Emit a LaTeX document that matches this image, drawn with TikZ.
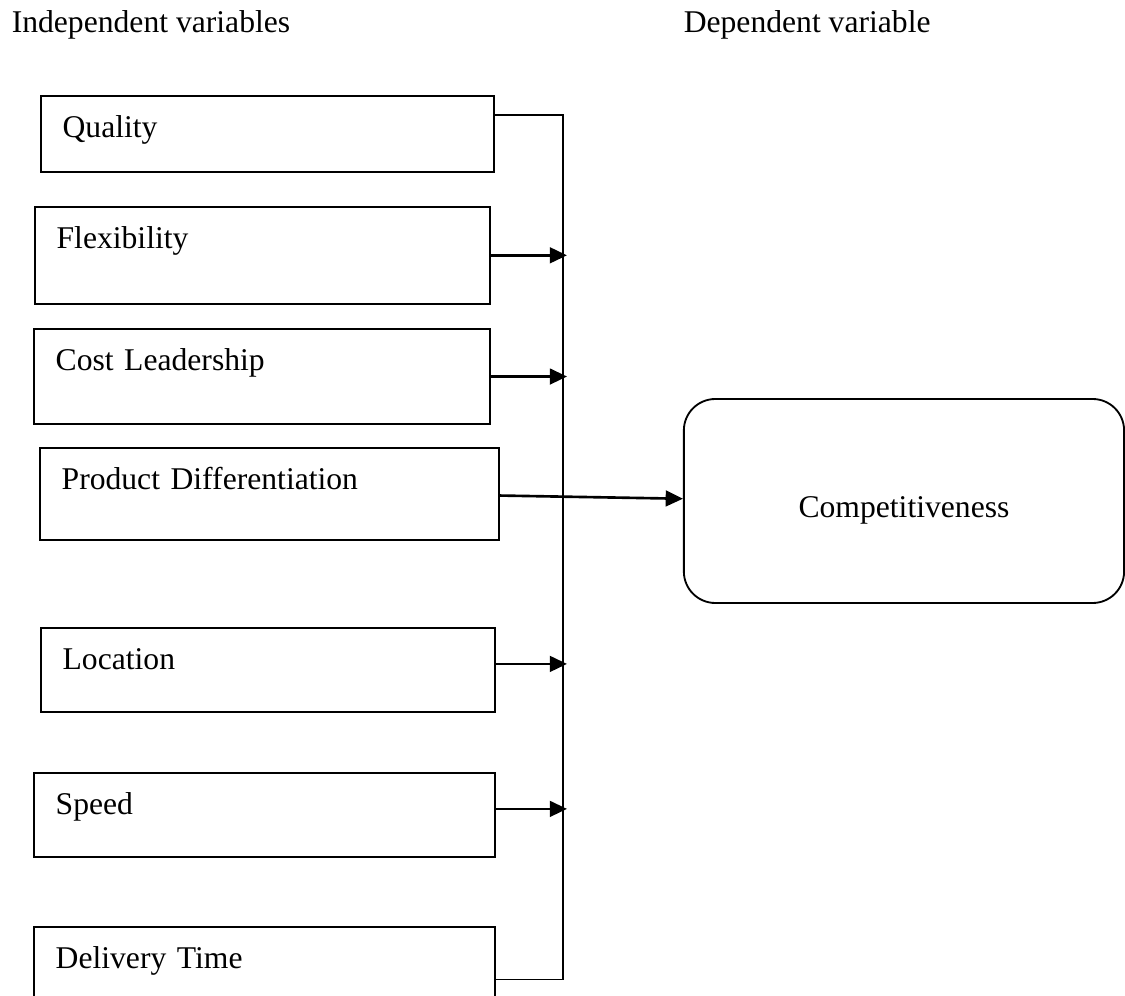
\documentclass[tikz,border=0pt]{standalone}
\usepackage{fontspec}
\setmainfont{Liberation Serif}
\usepackage{tikz}
\usetikzlibrary{arrows.meta, positioning, calc}
\tikzstyle{arrow} = [-{Triangle[length=2.3mm, width=2.1mm]}, line width=1pt]

\begin{document}
\begin{tikzpicture}[
  varbox/.style={draw, line width=0.7pt, anchor=north west, align=left, inner xsep=0.29cm, inner ysep=0.25cm, text height=0.3cm, font=\fontsize{12}{14}\selectfont},
  outbox/.style={draw, line width=0.7pt, rounded corners=0.42cm, minimum width=5.87cm, minimum height=2.72cm, text height=0.52cm, text depth=0.09cm, font=\fontsize{12}{14}\selectfont},
  heading/.style={anchor=base west, inner sep=0pt, font=\fontsize{12}{14}\selectfont}
]
\useasboundingbox (0,0) rectangle (15,-13.28);

% Headings
\node[heading] (indep) at (0.15,-0.44) {Independent variables};
\node[heading] (dep) at (9.11,-0.44) {Dependent variable};

% Independent variables
\node[varbox, text width=5.46cm, text depth=0.21cm] (quality) at (0.533,-1.267) {Quality};
\node[varbox, text width=5.49cm, text depth=0.49cm] (flex) at (0.453,-2.747) {Flexibility};
\node[varbox, text width=5.50cm, text depth=0.47cm] (cost) at (0.44,-4.373) {Cost Leadership};
\node[varbox, text width=5.54cm, text depth=0.43cm] (prod) at (0.52,-5.96) {Product Differentiation};
\node[varbox, text width=5.47cm, text depth=0.32cm] (loc) at (0.533,-8.36) {Location};
\node[varbox, text width=5.57cm, text depth=0.32cm] (speed) at (0.44,-10.293) {Speed};
\node[varbox, text width=5.57cm, text depth=0.40cm] (deliv) at (0.44,-12.347) {Delivery Time};

% Dependent variable
\node[outbox] (comp) at (12.053,-6.68) {Competitiveness};

% Collecting line
\coordinate (bus) at (7.507,0);
\coordinate (tip) at (7.56,0);
\draw[line width=0.7pt] ([yshift=0.25cm]quality.east) -- ([yshift=0.25cm]quality.east -| bus)
  -- ([yshift=-0.1cm]deliv.east -| bus) -- ([yshift=-0.1cm]deliv.east);

% Arrows
\draw[arrow] (flex.east) -- (flex.east -| tip);
\draw[arrow] (cost.east) -- (cost.east -| tip);
\draw[arrow] ([yshift=0.08cm]loc.east) -- ([yshift=0.08cm]loc.east -| tip);
\draw[arrow] ([yshift=0.08cm]speed.east) -- ([yshift=0.08cm]speed.east -| tip);
\draw[arrow] ([yshift=-0.02cm]prod.east) -- ([yshift=0.03cm]comp.west);

\end{tikzpicture}
\end{document}
